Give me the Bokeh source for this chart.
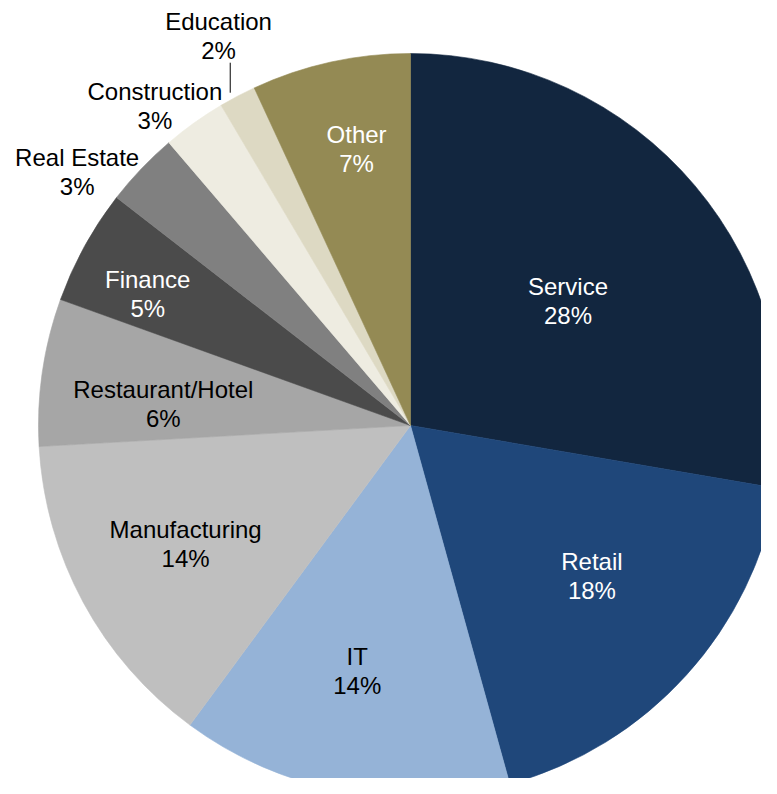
import math
from bokeh.plotting import figure
from bokeh.models import Range1d, ColumnDataSource
from bokeh.core.properties import value
from bokeh.embed import file_html
from bokeh.resources import INLINE

# ---- data ----
categories = ["Service", "Retail", "IT", "Manufacturing", "Restaurant/Hotel",
              "Finance", "Real Estate", "Construction", "Education", "Other"]
shares = [27.7, 18.0, 14.4, 14.0, 6.4, 5.0, 3.25, 2.75, 1.6, 6.9]
colors = ["#12263F", "#1F477A", "#95B3D7", "#BFBFBF", "#A6A6A6",
          "#4B4B4B", "#808080", "#EEECE1", "#DDD9C3", "#948A54"]
label_colors = ["white", "white", "black", "black", "black",
                "white", "black", "black", "black", "white"]

# ---- layout (label placement relative to each slice) ----
label_r = [0.539, 0.634, 0.675, 0.683, 0.667, 0.79, 1.125, 1.099, 1.168, 0.758]
label_nudge = [1.9, -2.4, 1.8, 0.7, -3.4, -2.2, -6.45, -3.15, 1.5, 1.4]

W, H = 761, 778
PAGE_H = 794
cx, cy = 410, PAGE_H - 425
R = 372
FONT = "Liberation Sans"
FS = "24px"
LINE = 14.5

p = figure(width=W, height=H, output_backend="svg", toolbar_location=None,
           x_range=Range1d(0, W), y_range=Range1d(PAGE_H - H, PAGE_H),
           min_border=0, outline_line_color=None)
p.axis.visible = False
p.grid.visible = False
p.background_fill_color = "white"
p.border_fill_color = "white"

total = sum(shares)
starts, ends, mids = [], [], []
cum = 0.0
for v in shares:
    a0 = cum / total
    cum += v
    a1 = cum / total
    # clockwise from 12 o'clock -> bokeh anticlockwise angles from +x
    starts.append(math.pi / 2 - 2 * math.pi * a1)
    ends.append(math.pi / 2 - 2 * math.pi * a0)
    mids.append((a0 + a1) / 2 * 360.0)

src = ColumnDataSource(dict(x=[cx] * len(shares), y=[cy] * len(shares),
                            start=starts, end=ends, color=colors))
p.wedge(x="x", y="y", radius=R, radius_units="data", start_angle="start",
        end_angle="end", fill_color="color", line_color="color", line_width=0.6,
        source=src)

lx, ly, names, pcts = [], [], [], []
for i, cat in enumerate(categories):
    ang = math.radians(mids[i] + label_nudge[i])
    r = label_r[i] * R
    lx.append(cx + r * math.sin(ang))
    ly.append(cy + r * math.cos(ang))
    names.append(cat)
    pcts.append(f"{round(shares[i] / total * 100)}%")

lsrc = ColumnDataSource(dict(x=lx, y1=[y + LINE for y in ly], y2=[y - LINE for y in ly],
                             name=names, pct=pcts, tc=label_colors))
p.text(x="x", y="y1", text="name", source=lsrc, text_color="tc",
       text_font=value(FONT), text_font_size=FS, text_align="center",
       text_baseline="middle")
p.text(x="x", y="y2", text="pct", source=lsrc, text_color="tc",
       text_font=value(FONT), text_font_size=FS, text_align="center",
       text_baseline="middle")

# leader line for Education label
ei = categories.index("Education")
p.segment(x0=[lx[ei] + 11.7], y0=[ly[ei] - 27], x1=[lx[ei] + 11.7], y1=[ly[ei] - 57],
          line_color="black", line_width=1)

open("out.html", "w").write(file_html(p, INLINE))
